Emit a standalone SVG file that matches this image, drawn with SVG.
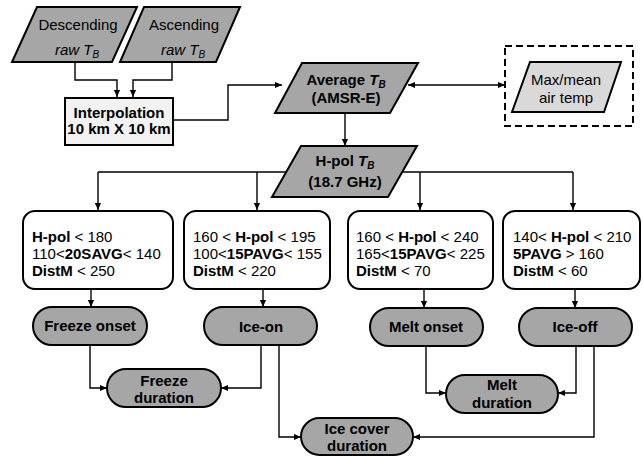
<svg xmlns="http://www.w3.org/2000/svg" width="643" height="457" viewBox="0 0 643 457">
<defs>
<marker id="ah" viewBox="0 0 8 8" refX="8" refY="4" markerWidth="7" markerHeight="7" markerUnits="userSpaceOnUse" orient="auto-start-reverse">
<path d="M0,0.5 L8,4 L0,7.5 Z" fill="#000"/>
</marker>
<style>
.t{font-family:"Liberation Sans",Arial,sans-serif;font-size:15px;fill:#000}
.b{font-weight:bold}
.c{text-anchor:middle}
.i{font-style:italic}
.shape{stroke:#000;stroke-width:2;stroke-linejoin:miter}
.dark{fill:#a6a6a6}
.light{fill:#d9d9d9}
.box{fill:#fff;stroke:#000;stroke-width:2}
.conn path{fill:none;stroke:#000;stroke-width:1.4}
.arr{marker-end:url(#ah)}
</style>
</defs>
<rect width="643" height="457" fill="#fff"/>

<g id="connectors" class="conn">
<path class="arr" d="M75,62 V80 H117 V97"/>
<path class="arr" d="M172,62 V80 H133 V97"/>
<path class="arr" d="M173,120 H228 V85 H282"/>
<path class="arr" d="M408,85 H505" style="marker-start:url(#ah)"/>
<path class="arr" d="M345,113 V146"/>
<path d="M98,172 H573"/>
<path class="arr" d="M98,172 V210"/>
<path class="arr" d="M257,172 V210"/>
<path class="arr" d="M420,172 V210"/>
<path class="arr" d="M573,172 V210"/>
<path class="arr" d="M91,289 V307"/>
<path class="arr" d="M263,289 V307"/>
<path class="arr" d="M424,289 V308"/>
<path class="arr" d="M575,289 V308"/>
<path class="arr" d="M90,345 V388 H107"/>
<path class="arr" d="M261,345 V388 H221"/>
<path class="arr" d="M279,345 V437 H301"/>
<path class="arr" d="M426,346 V393 H446"/>
<path class="arr" d="M576,346 V393 H558"/>
<path class="arr" d="M594,346 V437 H413"/>
</g>

<g id="descending">
<polygon class="shape dark" points="37,7 137,7 112,62 12,62"/>
<text class="t c" x="78" y="30">Descending</text>
<text class="t c i" x="77" y="55">raw T<tspan font-size="10" dy="3">B</tspan></text>
</g>

<g id="ascending">
<polygon class="shape dark" points="144,7 240,7 216,62 120,62"/>
<text class="t c" x="184" y="30">Ascending</text>
<text class="t c i" x="183" y="55">raw T<tspan font-size="10" dy="3">B</tspan></text>
</g>

<g id="interpolation">
<rect class="shape" x="65" y="98" width="108" height="47" fill="#f2f2f2"/>
<text class="t c b" x="119" y="118" font-size="13">Interpolation</text>
<text class="t c b" x="119" y="134" font-size="13">10 km X 10 km</text>
</g>

<g id="average">
<polygon class="shape dark" points="302,63 418,63 390,113 275,113"/>
<text class="t c b" x="346" y="85">Average <tspan class="i">T</tspan><tspan class="i" font-size="10" dy="3">B</tspan></text>
<text class="t c b" x="346" y="103" font-size="13">(AMSR-E)</text>
</g>

<g id="airtemp">
<rect x="505" y="46" width="128" height="80" fill="none" stroke="#000" stroke-width="2" stroke-dasharray="7,4"/>
<polygon class="shape light" points="530,62 621,62 604,112 512,112"/>
<text class="t c" x="566" y="85">Max/mean</text>
<text class="t c" x="566" y="103">air temp</text>
</g>

<g id="hpol">
<polygon class="shape dark" points="301,146 417,146 388,197 272,197"/>
<text class="t c b" x="345" y="166">H-pol <tspan class="i">T</tspan><tspan class="i" font-size="10" dy="3">B</tspan></text>
<text class="t c b" x="345" y="187">(18.7 GHz)</text>
</g>

<g id="cond1">
<rect class="box" x="23" y="211" width="150" height="78" rx="12"/>
<text class="t" x="32" y="242"><tspan class="b">H-pol</tspan> &lt; 180</text>
<text class="t" x="32" y="259">110&lt;<tspan class="b">20SAVG</tspan>&lt; 140</text>
<text class="t" x="32" y="276"><tspan class="b">DistM</tspan> &lt; 250</text>
</g>

<g id="cond2">
<rect class="box" x="184" y="211" width="146" height="78" rx="12"/>
<text class="t" x="193" y="242">160 &lt; <tspan class="b">H-pol</tspan> &lt; 195</text>
<text class="t" x="193" y="259">100&lt;<tspan class="b">15PAVG</tspan>&lt; 155</text>
<text class="t" x="193" y="276"><tspan class="b">DistM</tspan> &lt; 220</text>
</g>

<g id="cond3">
<rect class="box" x="348" y="211" width="145" height="78" rx="12"/>
<text class="t" x="356" y="242">160 &lt; <tspan class="b">H-pol</tspan> &lt; 240</text>
<text class="t" x="356" y="259">165&lt;<tspan class="b">15PAVG</tspan>&lt; 225</text>
<text class="t" x="356" y="276"><tspan class="b">DistM</tspan> &lt; 70</text>
</g>

<g id="cond4">
<rect class="box" x="503" y="211" width="137" height="78" rx="12"/>
<text class="t" x="513" y="242">140&lt; <tspan class="b">H-pol</tspan> &lt; 210</text>
<text class="t" x="513" y="259"><tspan class="b">5PAVG</tspan> &gt; 160</text>
<text class="t" x="513" y="276"><tspan class="b">DistM</tspan> &lt; 60</text>
</g>

<g id="freezeonset">
<rect class="shape dark" x="33" y="307" width="114" height="38" rx="19"/>
<text class="t c b" x="90" y="331">Freeze onset</text>
</g>

<g id="iceon">
<rect class="shape dark" x="204" y="307" width="113" height="38" rx="19"/>
<text class="t c b" x="261" y="332" font-size="16.5">Ice-on</text>
</g>

<g id="meltonset">
<rect class="shape dark" x="370" y="308" width="113" height="38" rx="19"/>
<text class="t c b" x="426" y="332">Melt onset</text>
</g>

<g id="iceoff">
<rect class="shape dark" x="519" y="308" width="113" height="38" rx="19"/>
<text class="t c b" x="575" y="332" font-size="16.5">Ice-off</text>
</g>

<g id="freezeduration">
<rect class="shape dark" x="107" y="369" width="114" height="38" rx="19"/>
<text class="t c b" x="164" y="386">Freeze</text>
<text class="t c b" x="164" y="403">duration</text>
</g>

<g id="meltduration">
<rect class="shape dark" x="446" y="375" width="112" height="38" rx="19"/>
<text class="t c b" x="502" y="390">Melt</text>
<text class="t c b" x="502" y="408">duration</text>
</g>

<g id="icecoverduration">
<rect class="shape dark" x="301" y="418" width="112" height="37" rx="18.5"/>
<text class="t c b" x="357" y="434">Ice cover</text>
<text class="t c b" x="357" y="451">duration</text>
</g>
</svg>
